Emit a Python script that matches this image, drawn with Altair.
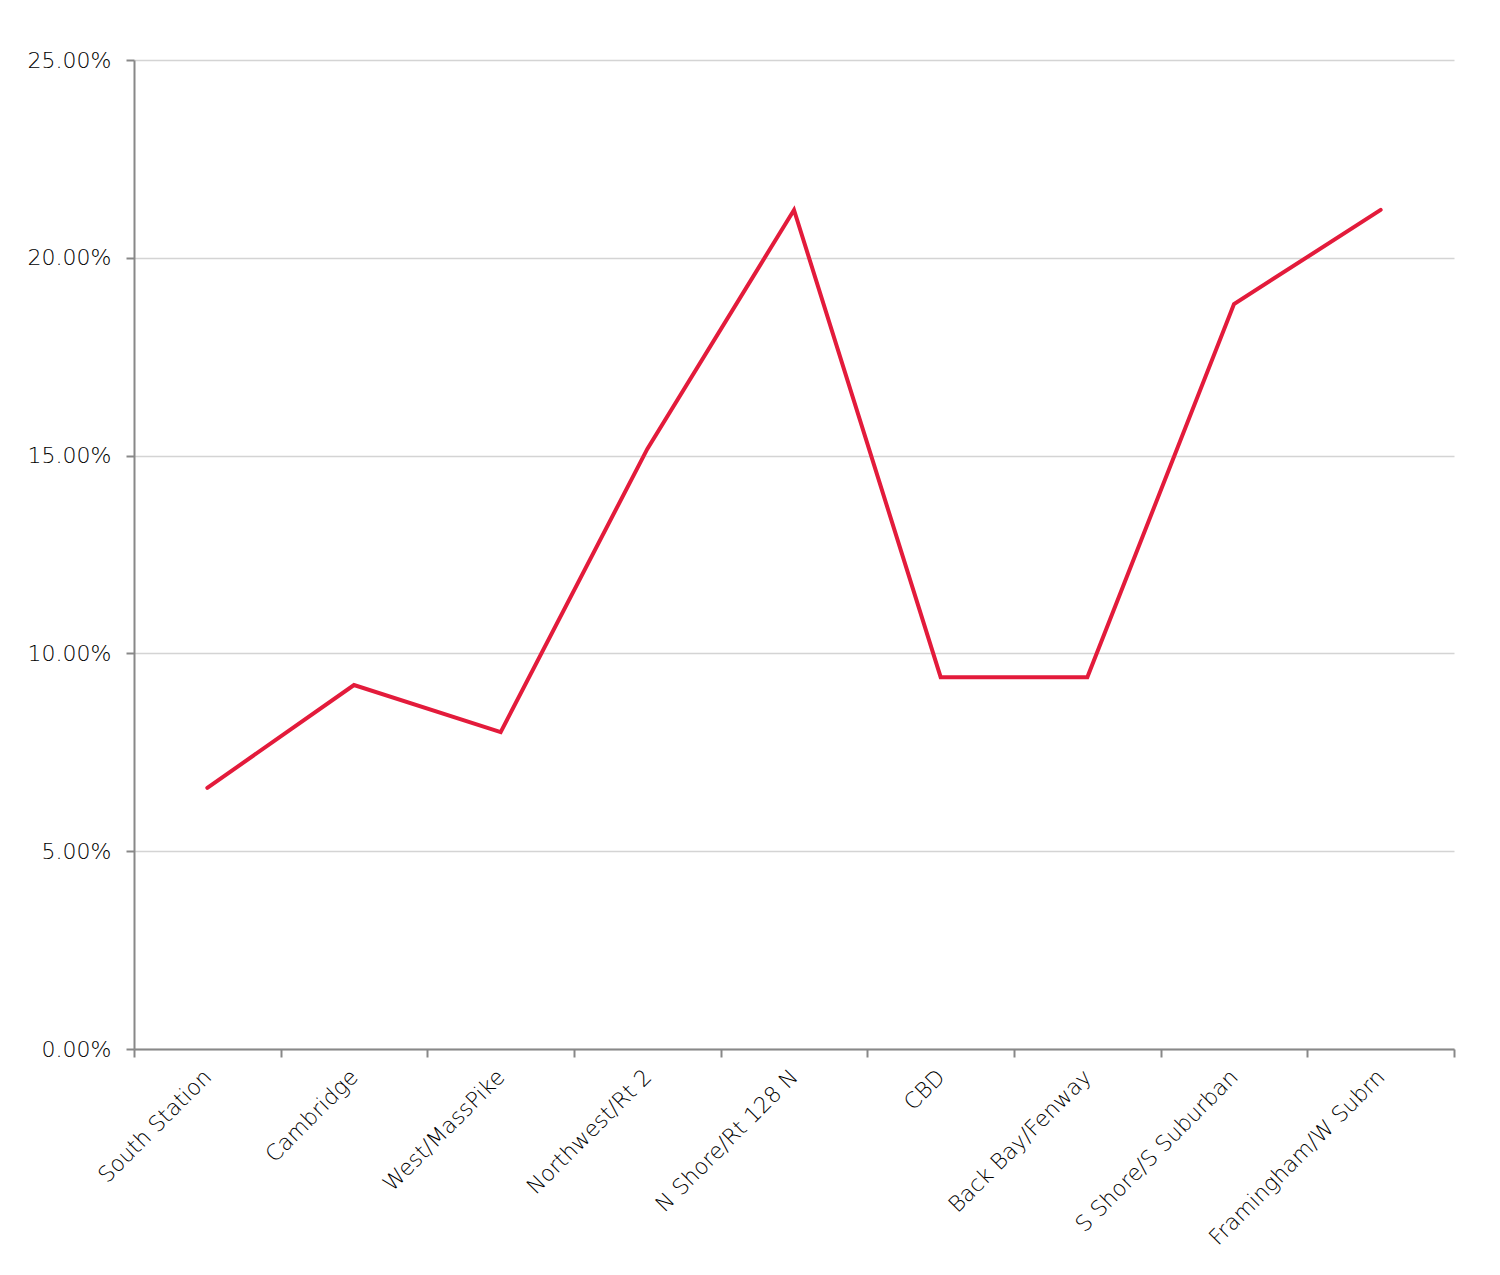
import altair as alt
import pandas as pd

categories = ["South Station", "Cambridge", "West/MassPike", "Northwest/Rt 2",
              "N Shore/Rt 128 N", "CBD", "Back Bay/Fenway", "S Shore/S Suburban",
              "Framingham/W Subrn"]
values = [0.0660, 0.0920, 0.0801, 0.1517, 0.2121, 0.0940, 0.0940, 0.1883, 0.2121]

df = pd.DataFrame({"cat": categories, "val": values})

FONT = "DejaVu Sans"

chart = alt.Chart(df).mark_line(color="#e31b3b", strokeWidth=4, strokeCap="round", strokeJoin="miter").encode(
    x=alt.X("cat:N", sort=categories, title=None,
            scale=alt.Scale(type="band", paddingInner=0, paddingOuter=0),
            axis=alt.Axis(labelAngle=-45, labelAlign="right", labelBaseline="middle",
                          labelFontSize=22, labelFont=FONT, labelColor="#000",
                          labelFontWeight=200, labelLimit=0,
                          tickColor="#888", domainColor="#888", tickSize=8,
                          tickWidth=2, domainWidth=2, labelPadding=16,
                          tickBand="extent", grid=False)),
    y=alt.Y("val:Q", title=None,
            scale=alt.Scale(domain=[0, 0.25], nice=False),
            axis=alt.Axis(format=".2%", values=[0, 0.05, 0.10, 0.15, 0.20, 0.25],
                          labelFontSize=22, labelFont=FONT, labelColor="#000",
                          labelFontWeight=200,
                          tickColor="#888", domainColor="#888", tickSize=8,
                          tickWidth=2, domainWidth=2, labelPadding=15,
                          gridColor="#d4d4d4", gridWidth=1.5)),
).properties(
    width=1320, height=989,
    autosize=alt.AutoSizeParams(type="none"),
    padding={"left": 126, "top": 52, "right": 38, "bottom": 218},
).configure_view(stroke=None)

chart.save("out.html", embed_options={"renderer": "svg", "actions": False})
